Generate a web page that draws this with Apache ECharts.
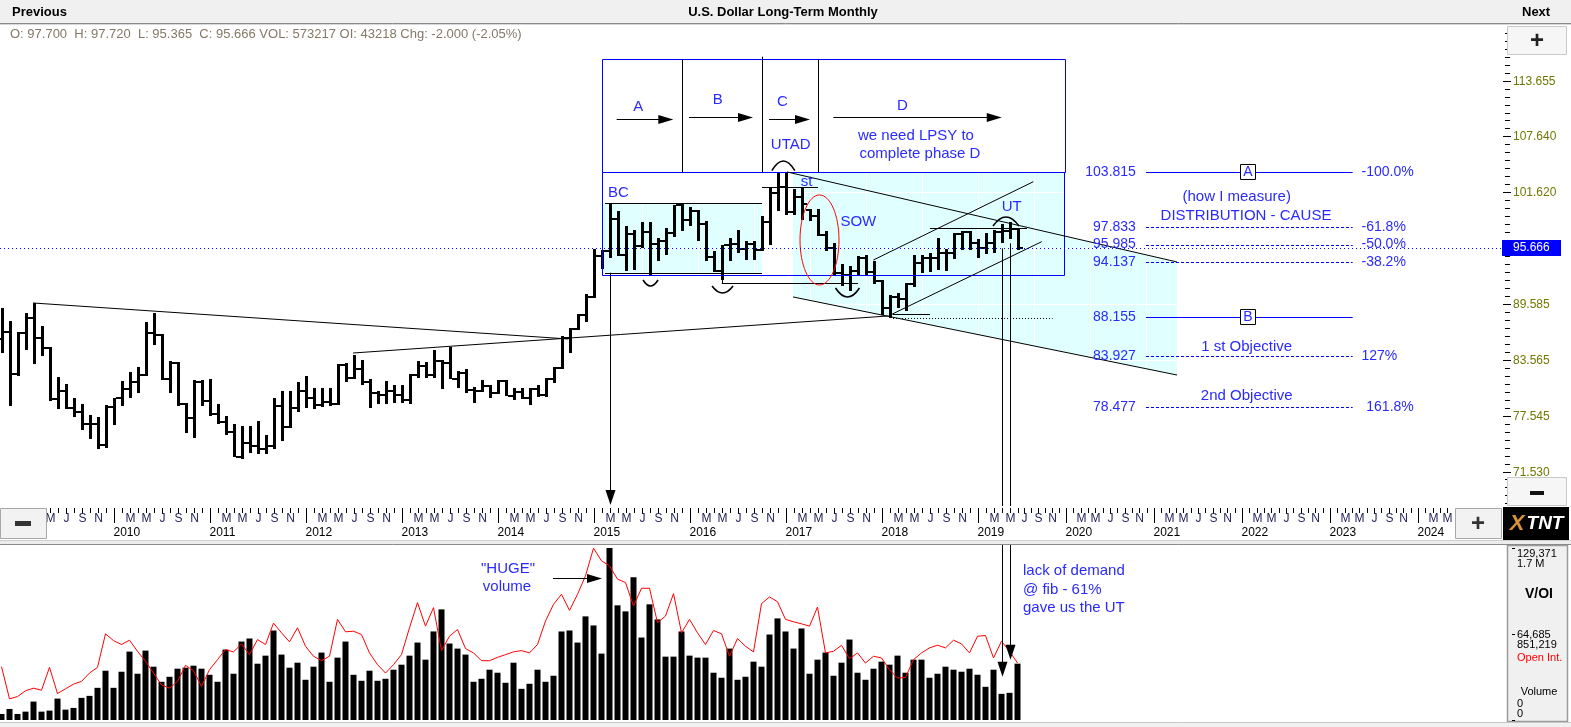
<!DOCTYPE html>
<html><head><meta charset="utf-8">
<script src="https://cdn.jsdelivr.net/npm/echarts@6/dist/echarts.min.js"></script>
<style>html,body{margin:0;padding:0;background:#fff;overflow:hidden}#chart{width:1571px;height:727px}</style>
</head><body><div id="chart"></div>
<script>
const FONT = "'Liberation Sans', Arial, Helvetica, sans-serif";
const NOTE_BLUE = '#2a2aff';

// ---------------- DATA (monthly bars, first bar = Nov 2008) ----------------
const firstYear = 2008, firstMonth = 10;
const opens = [85.8,86.6,82.0,86.5,88.1,85.9,84.8,79.3,80.2,78.4,
77.9,76.6,76.6,74.4,78.5,79.4,80.4,81.2,81.9,86.5,
86.2,81.5,83.2,78.8,77.3,81.2,79.1,77.7,76.9,75.8,
73.1,74.6,74.3,74.0,74.3,78.6,76.3,78.4,80.2,79.4,
78.7,79.0,78.8,83.0,81.6,82.6,81.2,80.0,79.8,80.2,
79.8,79.2,81.9,82.9,81.9,83.4,83.2,81.5,82.1,80.3,
80.2,80.7,80.0,81.3,79.7,80.1,79.5,80.4,79.8,81.5,
82.7,85.9,86.9,88.4,90.3,94.8,95.3,98.7,94.9,97.1,
95.8,97.3,96.0,96.4,97.2,100.2,98.6,99.6,98.2,94.6,
93.1,95.9,96.1,95.5,96.0,95.4,98.4,101.5,102.2,99.5,
101.1,99.7,99.1,97.0,95.6,92.9,92.7,93.1,94.5,93.0,
92.1,89.1,90.3,90.1,91.7,94.0,94.5,94.5,95.1,95.1,
97.1,97.3,96.2,95.6,96.2,97.3,97.5,97.7];
const highs = [89.2,87.8,86.6,88.6,89.7,87.2,84.9,81.7,81.0,79.5,
78.8,77.6,77.4,78.7,79.5,81.3,82.3,82.8,87.6,88.6,
86.4,83.4,83.3,78.9,81.4,81.4,81.5,78.8,77.5,76.6,
76.4,76.4,77.0,75.5,79.5,80.2,80.2,81.2,81.8,80.5,
80.5,80.5,83.1,83.2,84.1,83.5,81.5,80.2,81.3,80.8,
80.8,82.0,83.4,83.3,84.6,83.5,84.9,82.4,82.6,80.6,
81.4,80.8,81.4,81.4,80.5,80.5,80.5,80.9,81.6,82.8,
86.1,87.0,88.5,90.7,95.5,95.4,100.4,99.6,98.0,97.6,
98.4,98.4,96.7,97.8,100.3,100.4,100.0,99.7,98.5,95.3,
95.9,96.7,97.6,96.4,96.4,99.1,102.1,103.65,103.82,102.0,
102.1,99.8,99.8,97.5,96.2,93.9,93.7,94.8,94.9,94.2,
92.2,90.6,90.8,91.8,94.9,94.9,95.1,96.7,95.5,97.2,
97.5,97.5,96.6,97.2,97.6,98.2,98.4,97.72];
const lows = [84.3,78.6,81.9,84.6,83.1,84.0,79.1,78.2,78.3,77.5,
76.0,75.0,74.0,74.1,76.6,78.6,79.5,80.0,81.8,85.2,
81.4,80.0,78.6,75.7,75.2,78.6,77.5,76.6,75.5,73.0,
72.8,73.5,73.4,73.4,74.0,74.8,76.2,78.0,78.4,78.2,
78.5,78.6,78.7,81.1,81.5,80.8,78.4,78.8,78.8,78.9,
78.9,78.8,81.6,81.6,81.6,80.4,81.4,80.6,80.0,78.9,
80.1,79.4,79.9,79.7,79.2,79.3,78.7,79.6,79.6,81.1,
82.5,84.3,86.8,87.7,90.2,93.3,94.6,94.8,93.1,93.3,
95.6,92.6,94.2,94.9,96.9,97.5,98.0,96.4,94.2,93.0,
92.1,94.2,95.1,94.4,94.4,95.3,96.0,99.6,99.2,99.2,
98.7,98.5,96.9,95.3,92.8,91.5,91.0,92.6,92.6,91.7,
88.4,88.15,89.2,88.8,91.5,93.0,93.1,93.3,93.1,94.4,
95.4,95.5,94.6,94.9,95.1,96.2,96.6,95.365];
const closes = [86.6,82.0,86.5,88.1,85.9,84.8,79.3,80.2,78.4,77.9,
76.6,76.6,74.4,78.5,79.4,80.4,81.2,81.9,86.5,86.2,
81.5,83.2,78.8,77.3,81.2,79.1,77.7,76.9,75.8,73.1,
74.6,74.3,74.0,74.3,78.6,76.3,78.4,80.2,79.4,78.7,
79.0,78.8,83.0,81.6,82.6,81.2,80.0,79.8,80.2,79.8,
79.2,81.9,82.9,81.9,83.4,83.2,81.5,82.1,80.3,80.2,
80.7,80.0,81.3,79.7,80.1,79.5,80.4,79.8,81.5,82.7,
85.9,86.9,88.4,90.3,94.8,95.3,98.7,94.9,97.1,95.8,
97.3,96.0,96.4,97.2,100.2,98.6,99.6,98.2,94.6,93.1,
95.9,96.1,95.5,96.0,95.4,98.4,101.5,102.2,99.5,101.1,
100.4,99.1,97.0,95.6,92.9,92.7,93.1,94.5,93.0,92.1,
89.1,90.3,90.1,91.7,94.0,94.5,94.5,95.1,95.1,97.1,
97.3,96.2,95.6,96.2,97.3,97.5,97.7,95.666];
const volumes = [4540,8300,4540,6300,13850,6300,7050,16100,7800,9080,
16650,18150,24200,37070,24200,36300,51450,34800,52200,40100,
28750,32500,38600,39350,40850,38600,34000,28750,52950,34800,
59000,61300,42350,48400,67300,49200,39350,43100,30260,40100,
50700,28750,46900,59000,34000,29500,37070,29500,31000,37830,
41600,48400,58250,45400,66600,83200,57500,53700,49200,28750,
31000,37830,35560,28000,43100,23450,27240,37830,28750,33290,
66580,67330,58250,77930,71120,49930,129371,86250,81700,107430,
62040,87000,75650,47660,47660,66580,48420,46900,46900,35560,
31780,53720,30260,32530,43880,40100,64300,76410,66580,53720,
68850,34800,45390,50690,33290,43120,60520,35560,30260,38580,
43880,41610,48420,35560,45390,45390,31780,34800,40100,37830,
36310,38580,34040,24970,37830,19670,20430,42370];
const openInterest = [527700,209000,232000,289000,315000,295000,521000,262000,309000,355000,
382000,465000,521000,853000,786000,747000,790000,680000,581000,465000,
348000,315000,382000,541000,488000,332000,498000,597000,697000,674000,
753000,647000,796000,747000,959000,863000,773000,913000,730000,631000,
587000,631000,996000,873000,879000,846000,664000,548000,465000,548000,
647000,913000,1162000,929000,1112000,687000,829000,896000,707000,664000,
587000,587000,620000,647000,674000,687000,664000,747000,979000,1145000,
1244000,1085000,1244000,1427000,1700000,1576000,1526000,1394000,1361000,1128000,
1304000,1304000,963000,1029000,1251000,863000,996000,863000,747000,886000,
853000,631000,806000,730000,674000,1152000,1218000,1171000,996000,972000,
952000,929000,1118000,664000,680000,740000,607000,664000,564000,631000,
614000,498000,415000,421000,597000,664000,714000,740000,714000,790000,
753000,664000,829000,836000,614000,780000,680000,564000];

// axis ticks / labels
const priceTicks = [113.655,107.640,101.620,95.600,89.585,83.565,77.545,71.530];
const priceTickLabels = ['113.655','107.640','101.620','','89.585','83.565','77.545','71.530'];
const lastPrice = 95.666, lastPriceLabel = '95.666';
const monthLetters = ['J','F','M','A','M','J','J','A','S','O','N','D'];
const labelledMonths = [2,4,6,8,10];
const lastAxisMonth = 186;
const volTicks = [129371, 64685, 0];
const volTickLabels = ['129,371','64,685','0'];
const oiTickLabels = ['1.7 M','851,219','0'];
const VOL_MAX = 129371, OI_MAX = 1702438;

// ---------------- ANNOTATIONS (data coordinates: [slot, price]) ----------------
const boxRects = [[75.03,103.77,132.94,115.95],[75.03,92.71,132.81,103.77]];
const phaseDividers = [[85.03,103.77,115.95],[95.03,103.77,116.23],[102.03,103.77,115.95]];
const phaseArrows = [[76.9,83.98,109.48],[85.94,93.94,109.70],[95.94,101.06,109.48],[103.98,125.03,109.70]];
const phaseLetters = [['A',79.6,110.84],['B',89.53,111.56],['C',97.6,111.38],['D',112.6,110.95]];
const trendLines = [
  [3.94,89.69,70.85,85.81],[43.94,84.30,110.81,88.29],
  [98.19,103.81,146.94,94.11],[98.94,90.34,146.94,81.93],
  [108.98,94.32,128.98,102.76],[110.85,88.29,130.03,96.30],
  [75.44,100.43,95.06,100.43],[75.44,92.95,95.06,92.95],
  [90.03,91.81,107.06,91.81],[90.03,92.95,90.03,91.81],
  [95.06,102.22,102.06,102.22],[116.06,97.77,128.19,97.77],
  [111.44,88.45,116.06,88.45]];
const dottedLines = [[111.44,88.04,131.4,88.04]];
const cyanZones = [
  [[75.03,92.95],[95.03,92.95],[95.03,100.43],[75.03,100.43]],
  [[98.94,103.77],[132.81,103.77],[132.81,96.92],[146.94,94.11],[146.94,81.93],[98.94,90.34]]];
const arcs = [[81.13,92.17,15,6],[90.13,91.52,21,7],[105.75,91.31,24,9],[97.73,103.95,23,-9.7],[125.56,97.99,26,-9]];
const sowEllipse = [102.25,96.48,19.5,45];
const priceNotes = [['BC',77.1,101.58],['st',100.65,102.76],['SOW',107.1,98.45],['UT',126.28,100.07],
  ['UTAD',98.65,106.72],['we need LPSY to',114.31,107.72],['complete phase D',114.81,105.71],
  ['(how I measure)',154.4,101.08],['DISTRIBUTION - CAUSE',155.56,99.06],
  ['1 st Objective',155.65,84.92],['2nd Objective',155.65,79.70]];
const fibLevels = [103.815,97.833,95.985,94.137,88.155,83.927,78.477];
const fibLabels = ['103.815','97.833','95.985','94.137','88.155','83.927','78.477'];
const fibPercents = ['-100.0%','-61.8%','-50.0%','-38.2%','','127%','161.8%'];
const fibMarkers = ['A','','','','B','',''];
const fibSolid = [true,false,false,false,true,false,false];
const fibLayout = {numRight:141.8, lineFrom:143.06, lineTo:168.9, pct:170.0, marker:155.85};
const priceDownArrows = [[76.0,92.95,67.92,true],[125.0,95.58,null,false],[126.0,96.12,null,false]];
const volumeDownArrows = [[125.0,32532],[126.0,45393]];
const hugeArrow = [68.94,75.06,106673];
const volumeNotes = [['"HUGE"',63.31,113500,'center'],['volume',63.19,100500,'center'],
  ['lack of demand',127.69,111970,'left'],['@ fib - 61%',127.69,97596,'left'],['gave us the UT',127.69,83978,'left']];

// ---------------- SCALES ----------------
function slotOf(m){
  if (m <= 127) return m;
  if (m <= 134) return 127 + (m - 127) * (133.06 - 127) / 7;
  return 133.06 + (m - 134) * 11 / 12;
}
const X_MIN = -0.1875, X_MAX = 187.6875;
const Y_MIN = 67.814, Y_MAX = 119.646;

const ohlcRows = opens.map((o,i)=>[slotOf(i), o, highs[i], lows[i], closes[i]]);
const volRows = volumes.map((v,i)=>[slotOf(i), v]);
const oiRows = openInterest.map((v,i)=>[slotOf(i), v]);
const axisMonths = [];
for (let m = 0; m <= lastAxisMonth; m++) axisMonths.push([slotOf(m), m]);

// ---------------- helpers ----------------
const cr = v => Math.round(v) + 0.5;
function txt(x, y, s, size, color, align, weight, vAlign){
  return {type:'text', x:x, y:y, style:{text:s, fill:color, font:(weight||'normal')+' '+size+'px '+FONT,
    align:align||'center', verticalAlign:vAlign||'middle', textAlign:align||'center', textVerticalAlign:vAlign||'middle'}};
}
function lineEl(a, b, color, w, dash){
  return {type:'line', shape:{x1:a[0],y1:a[1],x2:b[0],y2:b[1]}, style:{stroke:color, lineWidth:w||1, lineDash:dash||null, fill:null}};
}
function head(tip, dir, len, hw){
  const bx = tip[0]-dir[0]*len, by = tip[1]-dir[1]*len, px = -dir[1], py = dir[0];
  return {type:'polygon', shape:{points:[[tip[0],tip[1]],[bx+px*hw,by+py*hw],[bx-px*hw,by-py*hw]]}, style:{fill:'#000'}};
}

// ---------------- render functions ----------------
function renderBackground(params, api){
  const kids = [];
  cyanZones.forEach(z=>{
    kids.push({type:'polygon', shape:{points:z.map(p=>api.coord(p))}, style:{fill:'#e0ffff'}});
  });
  priceTicks.forEach(p=>{
    const a = api.coord([X_MIN,p]), b = api.coord([X_MAX,p]);
    kids.push(lineEl([a[0],cr(a[1])],[b[0],cr(a[1])],'#ffffff',1));
  });
  for (let s = 3; s < X_MAX; s += 7){
    const a = api.coord([s,Y_MAX]), b = api.coord([s,Y_MIN]);
    kids.push(lineEl([cr(a[0]),a[1]],[cr(a[0]),b[1]],'#ffffff',1));
  }
  return {type:'group', children:kids};
}

function renderOHLC(params, api){
  const s = api.value(0);
  const hi = api.coord([s, api.value(2)]), lo = api.coord([s, api.value(3)]);
  const op = api.coord([s, api.value(1)]), cl = api.coord([s, api.value(4)]);
  const x = Math.round(hi[0]) - 1;
  return {type:'group', children:[
    {type:'rect', shape:{x:x, y:Math.round(hi[1]), width:3, height:Math.max(2, Math.round(lo[1]-hi[1]))}, style:{fill:'#000'}},
    {type:'rect', shape:{x:x-3, y:Math.round(op[1])-1, width:3, height:2}, style:{fill:'#000'}},
    {type:'rect', shape:{x:x+3, y:Math.round(cl[1])-1, width:3, height:2}, style:{fill:'#000'}}
  ]};
}

function renderAnnotations(params, api){
  const P = (s,p)=>api.coord([s,p]);
  const kids = [];
  boxRects.forEach(b=>{
    const a = P(b[0],b[3]), d = P(b[2],b[1]);
    kids.push({type:'rect', shape:{x:cr(a[0]), y:cr(a[1]), width:Math.round(d[0]-a[0]), height:Math.round(d[1]-a[1])},
      style:{fill:'none', stroke:'#0000ff', lineWidth:1}});
  });
  phaseDividers.forEach(d=>{
    const a = P(d[0],d[1]), b = P(d[0],d[2]);
    kids.push(lineEl([cr(a[0]),a[1]],[cr(a[0]),b[1]],'#000',1));
  });
  phaseArrows.forEach(r=>{
    const a = P(r[0],r[2]), b = P(r[1],r[2]);
    const y = cr(a[1]);
    kids.push(lineEl([a[0],y],[b[0]-8,y],'#000',1));
    kids.push(head([b[0],y],[1,0],15,4.5));
  });
  trendLines.forEach(t=>{
    const a = P(t[0],t[1]), b = P(t[2],t[3]);
    if (Math.abs(a[1]-b[1]) < 0.01) { kids.push(lineEl([a[0],cr(a[1])],[b[0],cr(a[1])],'#000',1)); }
    else if (Math.abs(a[0]-b[0]) < 0.01) { kids.push(lineEl([cr(a[0]),a[1]],[cr(a[0]),b[1]],'#000',1)); }
    else kids.push(lineEl(a,b,'#000',1));
  });
  dottedLines.forEach(t=>{
    const a = P(t[0],t[1]), b = P(t[2],t[3]);
    kids.push(lineEl([a[0],cr(a[1])],[b[0],cr(a[1])],'#000',1,[1,2]));
  });
  arcs.forEach(r=>{
    const c = P(r[0],r[1]), hw = r[2]/2;
    kids.push({type:'bezierCurve', shape:{x1:c[0]-hw,y1:c[1],x2:c[0]+hw,y2:c[1],cpx1:c[0],cpy1:c[1]+2*r[3]},
      style:{stroke:'#000', lineWidth:1.6, fill:'none'}});
  });
  const ec = P(sowEllipse[0],sowEllipse[1]);
  kids.push({type:'ellipse', shape:{cx:ec[0],cy:ec[1],rx:sowEllipse[2],ry:sowEllipse[3]}, style:{fill:'none',stroke:'#ff0000',lineWidth:1}});
  priceDownArrows.forEach(v=>{
    const a = P(v[0],v[1]), b = P(v[0], v[2]===null ? Y_MIN : v[2]);
    const x = cr(a[0]);
    kids.push(lineEl([x,a[1]],[x, v[3] ? b[1]-10 : b[1]],'#000',1));
    if (v[3]) kids.push(head([x,b[1]],[0,1],15,5));
  });
  fibLevels.forEach((p,i)=>{
    const a = P(fibLayout.lineFrom,p), b = P(fibLayout.lineTo,p);
    const y = cr(a[1]);
    kids.push(lineEl([a[0],y],[b[0],y],'#0000ff',1, fibSolid[i]?null:[3,2]));
    const n = P(fibLayout.numRight,p);
    kids.push(txt(n[0], a[1], fibLabels[i], 14, NOTE_BLUE, 'right'));
    if (fibPercents[i]) {
      const q = P(fibLayout.pct + (fibPercents[i]==='161.8%'?0.6:0), p);
      kids.push(txt(q[0], a[1], fibPercents[i], 14, NOTE_BLUE, 'left'));
    }
    if (fibMarkers[i]) {
      const m = P(fibLayout.marker,p);
      kids.push({type:'rect', shape:{x:Math.round(m[0])-7.5, y:Math.round(a[1])-7.5, width:15, height:15}, style:{fill:'#fff', stroke:'#000', lineWidth:1}});
      kids.push(txt(Math.round(m[0]), Math.round(a[1])+0.5, fibMarkers[i], 14, NOTE_BLUE, 'center'));
    }
  });
  phaseLetters.forEach(t=>{ const a = P(t[1],t[2]); kids.push(txt(a[0],a[1],t[0],15,NOTE_BLUE)); });
  priceNotes.forEach(t=>{ const a = P(t[1],t[2]); kids.push(txt(a[0],a[1],t[0],15,NOTE_BLUE)); });
  return {type:'group', children:kids};
}

function renderPriceAxis(params, api){
  const kids = [];
  const right = api.coord([X_MAX, Y_MAX])[0];
  const left = api.coord([X_MIN, Y_MAX])[0];
  const lp = api.coord([X_MAX, lastPrice]);
  kids.push(lineEl([left, cr(lp[1])],[right, cr(lp[1])],'#0000ff',1,[1,3]));
  const step = (priceTicks[0]-priceTicks[priceTicks.length-1])/((priceTicks.length-1)*7);
  for (let p = priceTicks[priceTicks.length-1] - step*4; p < Y_MAX; p += step){
    if (p < Y_MIN) continue;
    const y = cr(api.coord([X_MAX,p])[1]);
    kids.push(lineEl([right+2,y],[right+7,y],'#000',1));
  }
  priceTicks.forEach((p,i)=>{
    const y = cr(api.coord([X_MAX,p])[1]);
    kids.push(lineEl([right,y],[right+8,y],'#000',1));
    if (priceTickLabels[i]) kids.push(txt(right+10, y, priceTickLabels[i], 12, '#6f7800', 'left'));
  });
  kids.push({type:'rect', shape:{x:right-1, y:Math.round(lp[1])-8, width:59, height:16}, style:{fill:'#0000ff'}});
  kids.push(txt(right+10, Math.round(lp[1]), lastPriceLabel, 12, '#ffffff', 'left'));
  return {type:'group', children:kids};
}

function renderTimeAxis(params, api){
  const s = api.value(0), m = api.value(1);
  const top = api.coord([s,1]);
  const x = cr(top[0]), y0 = top[1];
  const mon = (firstMonth + m) % 12;
  const yr = firstYear + Math.floor((firstMonth + m) / 12);
  const kids = [lineEl([x,y0+1],[x, y0 + (mon===0 ? 16 : 6)],'#000',1)];
  if (labelledMonths.indexOf(mon) >= 0) kids.push(txt(x, y0+11.5, monthLetters[mon], 12, '#1e1e55'));
  if (mon === 0) kids.push(txt(x-1, y0+26, String(yr), 12, '#000', 'left'));
  return {type:'group', children:kids};
}

function renderVolumeNotes(params, api){
  const P = (s,v)=>api.coord([s,v]);
  const kids = [];
  const topY = P(0, VOL_MAX)[1];
  volumeDownArrows.forEach(v=>{
    const b = P(v[0],v[1]); const x = cr(b[0]);
    kids.push(lineEl([x, topY-3],[x, b[1]-10],'#000',1));
    kids.push(head([x,b[1]],[0,1],15,5));
  });
  const a = P(hugeArrow[0],hugeArrow[2]), b = P(hugeArrow[1],hugeArrow[2]);
  kids.push(lineEl([a[0],cr(a[1])],[b[0]-8,cr(a[1])],'#000',1));
  kids.push(head([b[0],cr(a[1])],[1,0],15,4.5));
  volumeNotes.forEach(t=>{ const p = P(t[1],t[2]); kids.push(txt(p[0],p[1],t[0],15,NOTE_BLUE,t[3])); });
  const right = P(X_MAX,0)[0];
  const offs = [[6,16],[0.5,10.5],[-16,-6]];
  volTicks.forEach((v,i)=>{
    const y = P(X_MAX,v)[1];
    kids.push(lineEl([right+9,cr(y)],[right+12,cr(y)],'#000',1));
    kids.push(txt(right+14, y+offs[i][0], volTickLabels[i], 11, '#000', 'left'));
    kids.push(txt(right+14, y+offs[i][1], oiTickLabels[i], 11, '#000', 'left'));
  });
  return {type:'group', children:kids};
}

// ---------------- chrome ----------------
function chromeText(x, y, s, font, color, align){
  return {type:'text', x:x, y:y, style:{text:s, font:font, fill:color, align:align, verticalAlign:'middle', textAlign:align, textVerticalAlign:'middle'}, z:51};
}
const chrome = [
  {type:'rect', shape:{x:0,y:0,width:1571,height:23}, style:{fill:'#f0f0f0'}, z:50},
  {type:'line', shape:{x1:0,y1:23.5,x2:1571,y2:23.5}, style:{stroke:'#8a8a8a',lineWidth:1}, z:50},
  {type:'line', shape:{x1:0,y1:24.5,x2:1571,y2:24.5}, style:{stroke:'#d8d8d8',lineWidth:1}, z:50},
  chromeText(12, 12, 'Previous', 'bold 13px '+FONT, '#000', 'left'),
  chromeText(783, 12, 'U.S. Dollar Long-Term Monthly', 'bold 13px '+FONT, '#000', 'center'),
  chromeText(1522, 12, 'Next', 'bold 13px '+FONT, '#000', 'left'),
  chromeText(10, 34, 'O: 97.700  H: 97.720  L: 95.365  C: 95.666 VOL: 573217 OI: 43218 Chg: -2.000 (-2.05%)', '13px '+FONT, '#857868', 'left'),
  {type:'rect', shape:{x:1507.5,y:26.5,width:59,height:28}, style:{fill:'#f6f6f6',stroke:'#c8c8c8',lineWidth:1}, z:50},
  chromeText(1537, 41, '+', 'bold 24px '+FONT, '#222', 'center'),
  {type:'rect', shape:{x:1507.5,y:477.5,width:59,height:28}, style:{fill:'#f6f6f6',stroke:'#c8c8c8',lineWidth:1}, z:50},
  {type:'rect', shape:{x:1530,y:491,width:14,height:4}, style:{fill:'#111'}, z:51},
  {type:'rect', shape:{x:0.5,y:508.5,width:46,height:30}, style:{fill:'#f2f2f2',stroke:'#a8a8a8',lineWidth:1}, z:50},
  {type:'rect', shape:{x:15,y:521,width:16,height:5}, style:{fill:'#333'}, z:51},
  {type:'rect', shape:{x:1455.5,y:508.5,width:46,height:30}, style:{fill:'#f2f2f2',stroke:'#a8a8a8',lineWidth:1}, z:50},
  chromeText(1478, 524, '+', 'bold 24px '+FONT, '#333', 'center'),
  {type:'rect', shape:{x:1503,y:507,width:66,height:33}, style:{fill:'#000'}, z:50},
  chromeText(1517, 524, 'X', 'italic bold 22px '+FONT, '#d8903a', 'center'),
  chromeText(1545, 524, 'TNT', 'italic bold 19px '+FONT, '#ffffff', 'center'),
  {type:'rect', shape:{x:0,y:540,width:1571,height:5}, style:{fill:'#ececec'}, z:50},
  {type:'line', shape:{x1:0,y1:540.5,x2:1571,y2:540.5}, style:{stroke:'#d0d0d0',lineWidth:1}, z:50},
  {type:'line', shape:{x1:0,y1:544.5,x2:1571,y2:544.5}, style:{stroke:'#8a8a8a',lineWidth:1}, z:50},
  {type:'rect', shape:{x:1507.5,y:545.5,width:60,height:176}, style:{fill:'#f0f0f0',stroke:'#9a9a9a',lineWidth:1.5}, z:1},
  chromeText(1539, 594, 'V/OI', 'bold 14px '+FONT, '#000', 'center'),
  chromeText(1517, 658, 'Open Int.', '11px '+FONT, '#ff0000', 'left'),
  chromeText(1539, 692, 'Volume', '11px '+FONT, '#000', 'center'),
  {type:'rect', shape:{x:0,y:722,width:1571,height:5}, style:{fill:'#f0f0f0'}, z:50},
  {type:'line', shape:{x1:0,y1:722.5,x2:1571,y2:722.5}, style:{stroke:'#c8c8c8',lineWidth:1}, z:50}
];

const chart = echarts.init(document.getElementById('chart'), null, {renderer:'canvas'});
chart.setOption({
  animation:false,
  backgroundColor:'#ffffff',
  grid:[{left:0,top:25,width:1503,height:481},{left:0,top:507,width:1503,height:32},{left:0,top:548,width:1503,height:172}],
  xAxis:[0,1,2].map(i=>({type:'value',gridIndex:i,min:X_MIN,max:X_MAX,show:false})),
  yAxis:[
    {type:'value',gridIndex:0,min:Y_MIN,max:Y_MAX,show:false},
    {type:'value',gridIndex:1,min:0,max:1,show:false},
    {type:'value',gridIndex:2,min:0,max:VOL_MAX,show:false},
    {type:'value',gridIndex:2,min:0,max:OI_MAX,show:false}
  ],
  series:[
    {type:'custom',name:'zones',xAxisIndex:0,yAxisIndex:0,data:[[50,90]],renderItem:renderBackground,silent:true,z:1},
    {type:'custom',name:'price',xAxisIndex:0,yAxisIndex:0,data:ohlcRows,encode:{x:0,y:[1,2,3,4]},renderItem:renderOHLC,silent:true,z:3},
    {type:'custom',name:'notes',xAxisIndex:0,yAxisIndex:0,data:[[50,90]],renderItem:renderAnnotations,silent:true,z:4},
    {type:'custom',name:'priceAxis',xAxisIndex:0,yAxisIndex:0,data:[[50,90]],renderItem:renderPriceAxis,silent:true,z:5},
    {type:'custom',name:'timeAxis',xAxisIndex:1,yAxisIndex:1,data:axisMonths,encode:{x:0,y:1},renderItem:renderTimeAxis,silent:true,z:5},
    {type:'bar',name:'Volume',xAxisIndex:2,yAxisIndex:2,data:volRows,barWidth:6,itemStyle:{color:'#000'},silent:true,z:2},
    {type:'line',name:'Open Int.',xAxisIndex:2,yAxisIndex:3,data:oiRows,showSymbol:false,symbol:'none',lineStyle:{color:'#ff0000',width:1},silent:true,z:3},
    {type:'custom',name:'volNotes',xAxisIndex:2,yAxisIndex:2,data:[[50,1000]],renderItem:renderVolumeNotes,silent:true,z:6}
  ],
  graphic:{elements:chrome}
});
</script></body></html>
